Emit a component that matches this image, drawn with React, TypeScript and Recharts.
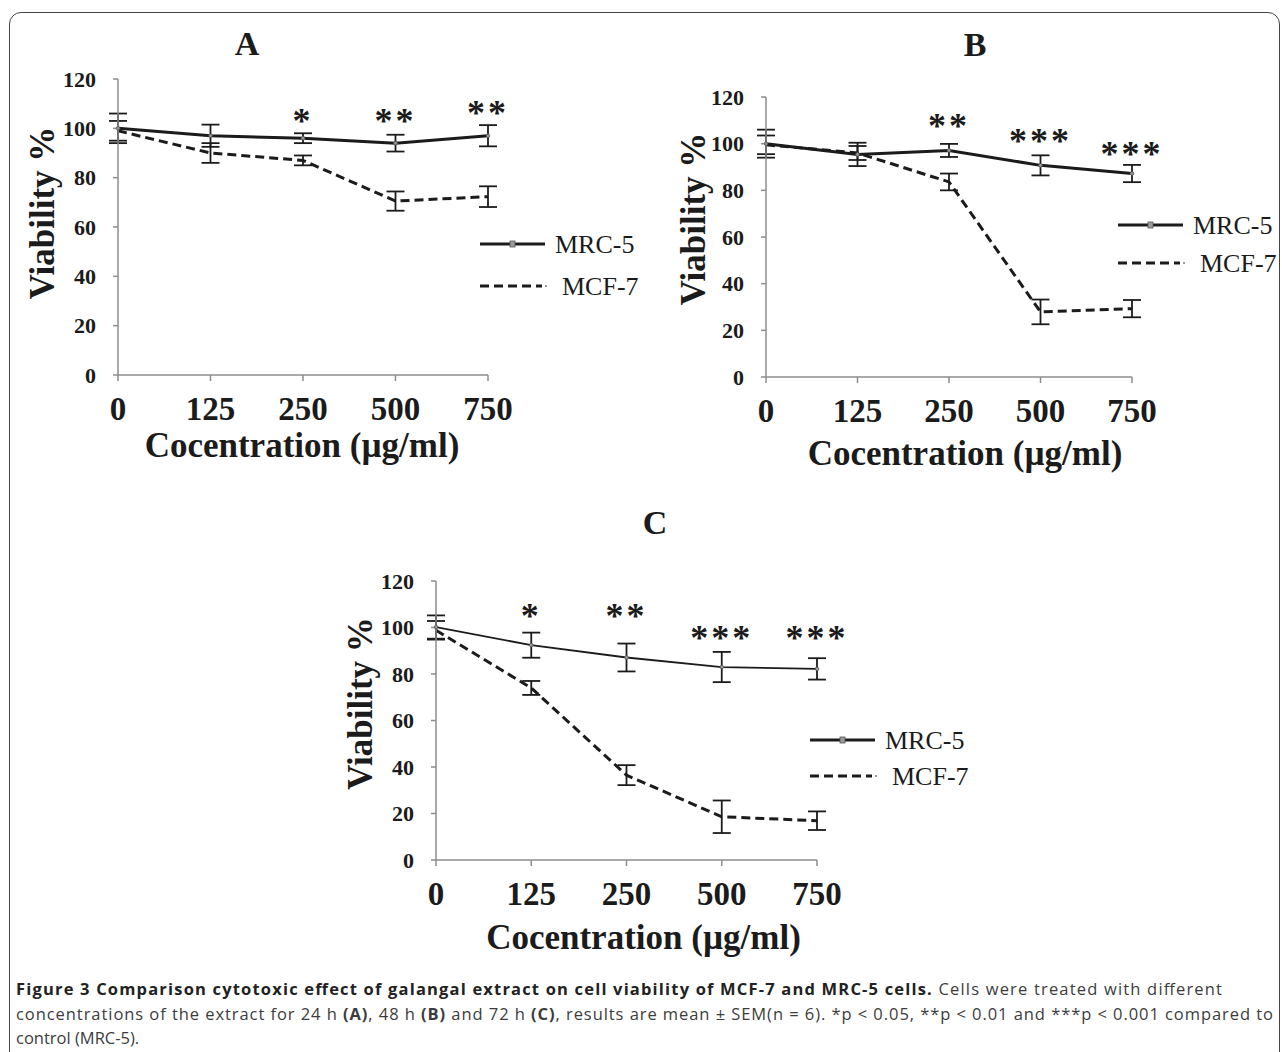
import React from 'react';
import { LineChart, Line, XAxis, YAxis, ErrorBar, LabelList, Legend } from 'recharts';

const doses = ['0', '125', '250', '500', '750'];
const yTicks = [0, 20, 40, 60, 80, 100, 120];

// A: 24 h
const mrcA = [100, 97, 96, 94, 97];
const mrcErrA = [6, 4.5, 2, 3.4, 4.3];
const mcfA = [99, 90, 87, 70.5, 72.3];
const mcfErrA = [4, 4, 2, 3.9, 4.2];
const starsA = ['', '', '*', '**', '**'];
const starPosA = [null, null, 105.4, 105.4, 108.8];

// B: 48 h
const mrcB = [100, 95.4, 97.1, 90.7, 87.2];
const mrcErrB = [6, 5, 2.8, 4.3, 3.7];
const mcfB = [99.5, 96, 83.6, 27.9, 29.3];
const mcfErrB = [4, 3, 3.6, 5.3, 3.7];
const starsB = ['', '', '**', '***', '***'];
const starPosB = [null, null, 110, 103.6, 98.3];

// C: 72 h
const mrcC = [100.2, 92.4, 87.1, 83, 82.2];
const mrcErrC = [5, 5.4, 6, 6.5, 4.6];
const mcfC = [98.8, 74, 36.5, 18.6, 16.9];
const mcfErrC = [4, 3, 4.3, 7, 4];
const starsC = ['', '*', '**', '***', '***'];
const starPosC = [null, 107.4, 107.4, 98, 98];

const seriesOrder = ['MRC-5', 'MCF-7'];

const serif = '"Liberation Serif", "Times New Roman", serif';
const ink = '#1b1b1b';
const axisGray = '#8d8d8d';

const rows = (mrc, mrcErr, mcf, mcfErr, stars, starPos) =>
  doses.map((d, i) => ({
    dose: d,
    mrc: mrc[i],
    mrcErr: mrcErr[i],
    mcf: mcf[i],
    mcfErr: mcfErr[i],
    star: stars[i],
    starPos: starPos[i],
  }));

const dataA = rows(mrcA, mrcErrA, mcfA, mcfErrA, starsA, starPosA);
const dataB = rows(mrcB, mrcErrB, mcfB, mcfErrB, starsB, starPosB);
const dataC = rows(mrcC, mrcErrC, mcfC, mcfErrC, starsC, starPosC);

const XTick = ({ x, y, payload }) => (
  <text x={x} y={y + 28} textAnchor="middle" dominantBaseline="central"
    fontFamily={serif} fontWeight="bold" fontSize={33} fill={ink}>
    {payload.value}
  </text>
);

const YTick = ({ x, y, payload }) => (
  <text x={x} y={y} textAnchor="end" dominantBaseline="central"
    fontFamily={serif} fontWeight="bold" fontSize={22} fill={ink}>
    {payload.value}
  </text>
);

const StarLabel = ({ x, y, value }) => {
  if (!value) return null;
  return (
    <text x={x} y={y + 18} textAnchor="middle" fontFamily={serif} fontWeight="bold"
      fontSize={36} letterSpacing={3} fill={ink}>
      {value}
    </text>
  );
};

const LegendBox = ({ payload, gap }) => {
  const items = (payload || [])
    .filter((p) => seriesOrder.includes(p.value))
    .sort((a, b) => seriesOrder.indexOf(a.value) - seriesOrder.indexOf(b.value));
  return (
    <svg width={170} height={gap + 30} style={{ overflow: 'visible', display: 'block' }}>
      {items.map((p, i) => {
        const y = 15 + i * gap;
        const solid = p.value === 'MRC-5';
        return (
          <g key={p.value}>
            {solid ? (
              <>
                <line x1={0} x2={65} y1={y} y2={y} stroke={ink} strokeWidth={3} />
                <rect x={30} y={y - 3} width={5} height={6} fill="#9a9a9a" stroke="#555" strokeWidth={0.8} />
              </>
            ) : (
              <>
                <line x1={0} x2={62} y1={y} y2={y} stroke={ink} strokeWidth={3} strokeDasharray="9 5" />
                <circle cx={66} cy={y} r={1} fill="#777" />
              </>
            )}
            <text x={solid ? 75 : 82} y={y} dominantBaseline="central" fontFamily={serif}
              fontSize={26} fill={ink}>
              {p.value}
            </text>
          </g>
        );
      })}
    </svg>
  );
};

const Panel = ({ data, cfg }) => {
  const m = cfg.margin;
  return (
    <div style={{ position: 'absolute', left: cfg.left, top: cfg.top }}>
      <LineChart width={cfg.width} height={cfg.height} data={data}
        margin={{ top: m.top, right: m.right, bottom: m.bottom, left: 0 }}>
        <XAxis dataKey="dose" interval={0} padding={{ left: 0, right: 0 }} height={cfg.xH}
          axisLine={{ stroke: axisGray, strokeWidth: 1.5 }}
          tickLine={{ stroke: axisGray, strokeWidth: 1.5 }} tickSize={6} tickMargin={0}
          tick={<XTick />}
          label={(p) => {
            const vb = p.viewBox || {};
            return (
              <text x={vb.x + vb.width / 2 + cfg.xTitleDx} y={vb.y + cfg.xTitleDy}
                textAnchor="middle" dominantBaseline="central" fontFamily={serif}
                fontWeight="bold" fontSize={35} fill={ink}>
                Cocentration (µg/ml)
              </text>
            );
          }} />
        <YAxis domain={[0, 120]} ticks={yTicks} width={cfg.yW} interval={0}
          axisLine={{ stroke: axisGray, strokeWidth: 1.5 }}
          tickLine={{ stroke: axisGray, strokeWidth: 1.5 }} tickSize={5} tickMargin={17}
          tick={<YTick />}
          label={(p) => {
            const vb = p.viewBox || {};
            const cx = vb.x + vb.width + cfg.yLabelDx;
            const cy = vb.y + vb.height / 2 + cfg.yLabelDy;
            return (
              <text x={cx} y={cy} transform={`rotate(-90, ${cx}, ${cy})`} textAnchor="middle"
                dominantBaseline="central" fontFamily={serif} fontWeight="bold" fontSize={35}
                fill={ink}>
                Viability %
              </text>
            );
          }} />
        <Legend layout="vertical" align="center" verticalAlign="middle"
          wrapperStyle={{ left: cfg.legend.x, top: cfg.legend.y, width: 170 }}
          content={(p) => <LegendBox payload={p.payload} gap={cfg.legend.gap} />} />
        <Line dataKey="mcf" name="MCF-7" stroke={ink} strokeWidth={3} strokeDasharray="9 5"
          dot={false} activeDot={false} isAnimationActive={false}>
          <ErrorBar dataKey="mcfErr" width={9} strokeWidth={1.8} stroke={ink} direction="y" />
        </Line>
        <Line dataKey="mrc" name="MRC-5" stroke={ink} strokeWidth={cfg.mrcW}
          dot={{ r: 1.8, fill: '#999', stroke: '#555', strokeWidth: 0.8 }} activeDot={false}
          isAnimationActive={false}>
          <ErrorBar dataKey="mrcErr" width={9} strokeWidth={1.8} stroke={ink} direction="y" />
        </Line>
        <Line dataKey="starPos" name="stars" stroke="none" dot={false} activeDot={false}
          legendType="none" isAnimationActive={false}>
          <LabelList dataKey="star" content={<StarLabel />} />
        </Line>
      </LineChart>
    </div>
  );
};

const cfgA = {
  left: 0, top: 0, width: 660, height: 480,
  margin: { top: 79, right: 172, bottom: 25 }, yW: 118, xH: 80, mrcW: 3,
  legend: { x: 480, y: 229, gap: 42 },
  yLabelDx: -76, yLabelDy: -14, xTitleDx: -1, xTitleDy: 70,
};
const cfgB = {
  left: 660, top: 0, width: 622, height: 480,
  margin: { top: 97, right: 150, bottom: 23 }, yW: 106, xH: 80, mrcW: 3,
  legend: { x: 458, y: 210, gap: 38 },
  yLabelDx: -73, yLabelDy: -18, xTitleDx: 16, xTitleDy: 76,
};
const cfgC = {
  left: 320, top: 480, width: 700, height: 500,
  margin: { top: 101, right: 203, bottom: 30 }, yW: 116, xH: 90, mrcW: 1.8,
  legend: { x: 490, y: 245, gap: 36 },
  yLabelDx: -76, yLabelDy: -17, xTitleDx: 17, xTitleDy: 77,
};

const PanelTitle = ({ x, y, children }) => (
  <div style={{
    position: 'absolute', left: x, top: y, transform: 'translate(-50%, -50%)',
    fontFamily: serif, fontWeight: 'bold', fontSize: 34, color: ink, lineHeight: 1,
  }}>
    {children}
  </div>
);

const capFont = '"Open Sans", "Noto Sans", sans-serif';

const Caption = () => (
  <svg width={1282} height={82} style={{ position: 'absolute', left: 0, top: 970 }}
    fontFamily={capFont} fontSize={16.5} fill="#3c3c3c">
    <text x={16} y={25} textLength={1206} lengthAdjust="spacing">
      <tspan fontWeight="bold" fill="#222">
        Figure 3 Comparison cytotoxic effect of galangal extract on cell viability of MCF-7 and MRC-5 cells.
      </tspan>
      <tspan> Cells were treated with different</tspan>
    </text>
    <text x={16} y={50} textLength={1257} lengthAdjust="spacing">
      <tspan>concentrations of the extract for 24 h </tspan>
      <tspan fontWeight="bold">(A)</tspan>
      <tspan>, 48 h </tspan>
      <tspan fontWeight="bold">(B)</tspan>
      <tspan> and 72 h </tspan>
      <tspan fontWeight="bold">(C)</tspan>
      <tspan>, results are mean ± SEM(n = 6). *p &lt; 0.05, **p &lt; 0.01 and ***p &lt; 0.001 compared to</tspan>
    </text>
    <text x={16} y={74}>control (MRC-5).</text>
  </svg>
);

export default function App() {
  return (
    <div style={{ position: 'absolute', left: 0, top: 0, width: 1282, height: 1052, background: '#fff', overflow: 'hidden' }}>
      <div style={{
        position: 'absolute', left: 9, top: 12, width: 1271, height: 1052,
        border: '1.5px solid #444', borderRadius: 12, boxSizing: 'border-box',
      }} />
      <PanelTitle x={247} y={44}>A</PanelTitle>
      <PanelTitle x={975} y={45}>B</PanelTitle>
      <PanelTitle x={655} y={523}>C</PanelTitle>
      <Panel data={dataA} cfg={cfgA} />
      <Panel data={dataB} cfg={cfgB} />
      <Panel data={dataC} cfg={cfgC} />
      <Caption />
    </div>
  );
}
